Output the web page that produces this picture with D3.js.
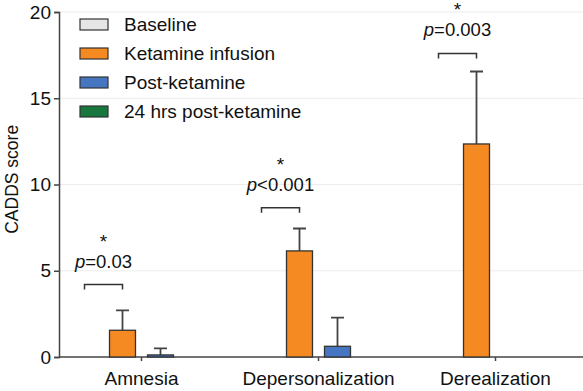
<!DOCTYPE html>
<html>
<head>
<meta charset="utf-8">
<script src="https://cdn.jsdelivr.net/npm/d3@7"></script>
<style>
  body { margin: 0; background: #fff; }
  svg { font-family: "Liberation Sans", Arial, sans-serif; }
</style>
</head>
<body>
<svg width="583" height="391"></svg>
<script>
const categories = ['Amnesia', 'Depersonalization', 'Derealization']
const series = ['Baseline', 'Ketamine infusion', 'Post-ketamine', '24 hrs post-ketamine']
const colors = ['#e6e6e6', '#f58a22', '#4676c2', '#17773c']

// means and SD per series (same order as categories)
const baseline = [0, 0, 0]
const ketamine = [1.55, 6.15, 12.35]
const postKet = [0.12, 0.62, 0]
const post24 = [0, 0, 0]
const ketamineSd = [1.15, 1.3, 4.2]
const postKetSd = [0.38, 1.66, 0]

const yTicks = [0, 5, 10, 15, 20]
const pLabels = ['=0.03', '<0.001', '=0.003']
const bracketLevel = [4.2, 8.65, 17.6]

const values = [baseline, ketamine, postKet, post24]
const sds = [[0, 0, 0], ketamineSd, postKetSd, [0, 0, 0]]

const svg = d3.select('svg')

const xScale = d3.scaleBand()
  .domain(categories)
  .range([53, 584])

const xSub = d3.scaleBand()
  .domain(series)
  .range([0, 152])
  .paddingInner(0.316)
  .paddingOuter(0.158)

const yScale = d3.scaleLinear()
  .domain([0, 20])
  .range([357, 12])

/*grid*/
svg.append('g')
  .selectAll('line')
  .data(yTicks.slice(1))
  .enter()
  .append('line')
  .attr('x1', 59)
  .attr('x2', 583)
  .attr('y1', d => yScale(d))
  .attr('y2', d => yScale(d))
  .attr('stroke', '#ececec')
  .attr('stroke-width', 1)

/*y axis*/
const yAxis = svg.append('g')
  .attr('transform', 'translate(59,0)')
  .call(d3.axisLeft(yScale).tickValues(yTicks).tickSize(5).tickPadding(3))
yAxis.select('.domain').attr('stroke', '#444').attr('stroke-width', 1.5)
yAxis.selectAll('.tick line').attr('stroke', '#444').attr('stroke-width', 1.5)
yAxis.selectAll('text').attr('font-size', 19).attr('fill', '#111')

/*x axis*/
const xAxis = svg.append('g')
  .attr('transform', `translate(0,${yScale(0)})`)
  .call(d3.axisBottom(xScale).tickSize(4).tickSizeOuter(0).tickPadding(11))
xAxis.select('.domain').attr('d', `M59,0H583`).attr('stroke', '#444').attr('stroke-width', 1.5)
xAxis.selectAll('.tick line').attr('stroke', '#444').attr('stroke-width', 1.5)
xAxis.selectAll('text').attr('font-size', 19).attr('fill', '#111')

/*y label*/
svg.append('text')
  .attr('transform', `translate(18,${yScale(10.3)}) rotate(-90)`)
  .attr('text-anchor', 'middle')
  .attr('font-size', 17.5)
  .attr('fill', '#111')
  .text('CADDS score')

/*bars*/
const rows = []
categories.forEach((c, i) => {
  series.forEach((s, j) => {
    rows.push({ cat: c, ser: s, color: colors[j], v: values[j][i], sd: sds[j][i] })
  })
})
const center = c => xScale(c) + xScale.bandwidth() / 2 - 76

const bars = rows.filter(d => d.v > 0)

svg.append('g')
  .selectAll('path')
  .data(bars.filter(d => d.sd > 0))
  .enter()
  .append('path')
  .attr('d', d => {
    const cx = center(d.cat) + xSub(d.ser) + xSub.bandwidth() / 2
    const top = yScale(d.v + d.sd)
    return `M${cx},${yScale(d.v)}V${top}M${cx - 6.5},${top}H${cx + 6.5}`
  })
  .attr('stroke', '#444')
  .attr('stroke-width', 1.8)
  .attr('fill', 'none')

svg.append('g')
  .selectAll('rect')
  .data(bars)
  .enter()
  .append('rect')
  .attr('x', d => center(d.cat) + xSub(d.ser))
  .attr('y', d => yScale(d.v))
  .attr('width', xSub.bandwidth())
  .attr('height', d => yScale(0) - yScale(d.v))
  .attr('fill', d => d.color)
  .attr('stroke', '#333')
  .attr('stroke-width', 1.3)

/*significance brackets*/
categories.forEach((c, i) => {
  const x1 = center(c) + xSub(series[0]) + xSub.bandwidth() / 2
  const x2 = center(c) + xSub(series[1]) + xSub.bandwidth() / 2
  const y = yScale(bracketLevel[i])
  svg.append('path')
    .attr('d', `M${x1},${y + 5}V${y}H${x2}V${y + 5}`)
    .attr('stroke', '#333')
    .attr('stroke-width', 1.5)
    .attr('fill', 'none')
  const t = svg.append('text')
    .attr('x', (x1 + x2) / 2)
    .attr('y', y - 17)
    .attr('text-anchor', 'middle')
    .attr('font-size', 18.5)
    .attr('fill', '#111')
  t.append('tspan').attr('font-style', 'italic').text('p')
  t.append('tspan').text(pLabels[i])
  svg.append('text')
    .attr('x', (x1 + x2) / 2)
    .attr('y', y - 37)
    .attr('text-anchor', 'middle')
    .attr('font-size', 19)
    .attr('fill', '#111')
    .text('*')
})

/*legend*/
const legend = svg.append('g')
  .selectAll('g')
  .data(series)
  .enter()
  .append('g')
  .attr('transform', (d, i) => `translate(80,${19 + i * 29})`)
legend.append('rect')
  .attr('width', 28)
  .attr('height', 11)
  .attr('fill', (d, i) => colors[i])
  .attr('stroke', '#333')
  .attr('stroke-width', 1.2)
legend.append('text')
  .attr('x', 44)
  .attr('y', 12)
  .attr('font-size', 19)
  .attr('fill', '#111')
  .text(d => d)
</script>
</body>
</html>
